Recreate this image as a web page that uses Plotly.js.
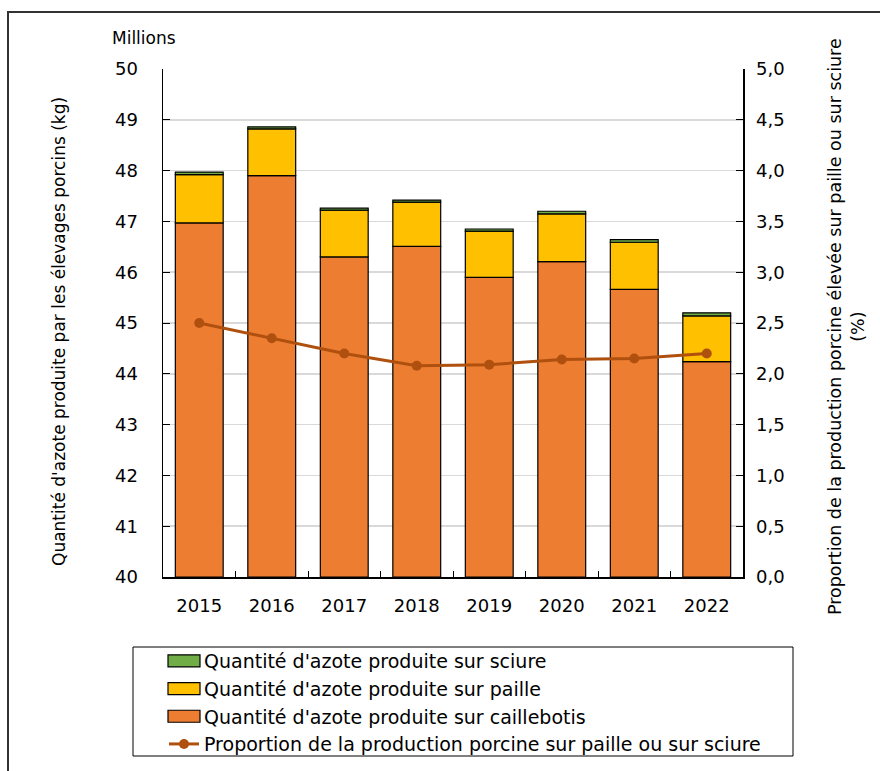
<!DOCTYPE html>
<html><head><meta charset="utf-8">
<script src="https://cdn.plot.ly/plotly-3.0.1.min.js"></script>
<style>html,body{margin:0;padding:0;background:#fff;}#chart{width:880px;height:771px;}</style>
</head><body><div id="chart"></div>
<script>
const years = ['2015','2016','2017','2018','2019','2020','2021','2022'];
const caillebotis = [46.97, 47.90, 46.30, 46.51, 45.90, 46.21, 45.66, 44.24];
const paille = [0.95, 0.92, 0.92, 0.87, 0.91, 0.94, 0.93, 0.90];
const sciure = [0.05, 0.04, 0.04, 0.04, 0.04, 0.05, 0.05, 0.06];
const proportion = [2.50, 2.35, 2.20, 2.08, 2.09, 2.14, 2.15, 2.20];
const names = {
  sciure: "Quantité d'azote produite sur sciure",
  paille: "Quantité d'azote produite sur paille",
  cail: "Quantité d'azote produite sur caillebotis",
  prop: "Proportion de la production porcine sur paille ou sur sciure"
};
const FONT = '"DejaVu Sans", sans-serif';
const traces = [
  {type:'bar', x: years, y: caillebotis.map(v => v - 40), base: 40, name: names.cail, legendrank: 3,
   marker:{color:'#ED7D31', line:{color:'#000', width:1.2}}, width:0.66},
  {type:'bar', x: years, y: paille, base: caillebotis, name: names.paille, legendrank: 2,
   marker:{color:'#FFC000', line:{color:'#000', width:1.2}}, width:0.66},
  {type:'bar', x: years, y: sciure, base: caillebotis.map((v,i) => v + paille[i]), name: names.sciure, legendrank: 1,
   marker:{color:'#70AD47', line:{color:'#000', width:1.2}}, width:0.66},
  {type:'scatter', mode:'lines+markers', x: years, y: proportion, yaxis:'y2', name: names.prop, legendrank: 4,
   line:{color:'#B0500F', width:3}, marker:{color:'#B0500F', size:10}}
];
const layout = {
  width: 880, height: 771,
  margin: {l:163, r:137, t:69, b:194, autoexpand:false},
  paper_bgcolor:'#fff', plot_bgcolor:'#fff',
  barmode:'overlay',
  showlegend: true,
  separators: ', ',
  font: {family: FONT, size: 17, color:'#000'},
  xaxis: {type:'category', showline:true, linecolor:'#000', linewidth:1.5, ticks:'inside', tickson:'boundaries', ticklen:6, tickcolor:'#000',
          showgrid:false, tickfont:{family:FONT, size:18}, ticklabelstandoff: 12, automargin:false},
  yaxis: {range:[40,50], dtick:1, showline:true, linecolor:'#000', linewidth:1.5, ticks:'inside', ticklen:7, tickcolor:'#000',
          gridcolor:'#D9D9D9', gridwidth:1.5, zeroline:false, tickfont:{family:FONT, size:18}, ticklabelstandoff: 20, automargin:false},
  yaxis2: {range:[0,5], dtick:0.5, overlaying:'y', side:'right', showline:true, linecolor:'#000', linewidth:1.5, ticks:'inside', ticklen:7,
           tickcolor:'#000', showgrid:false, zeroline:false, tickformat:'.1f', tickfont:{family:FONT, size:18}, ticklabelstandoff: 8, automargin:false},
  legend: {x: (164-163)/580, y: -(642-577)/508, xanchor:'left', yanchor:'top',
           bgcolor:'rgba(0,0,0,0)', borderwidth:0,
           font:{family:FONT, size:19, color:'#000'}, tracegroupgap:0, itemwidth:30, traceorder:'normal'},
  shapes: [
    {type:'rect', xref:'paper', yref:'paper', x0:(8-163)/580, x1:(900-163)/580, y0:-(800-577)/508, y1:1+(69-12)/508,
     line:{color:'#333', width:2}, fillcolor:'rgba(0,0,0,0)', layer:'below'},
    {type:'rect', xref:'paper', yref:'paper', x0:(133-163)/580, x1:(793-163)/580, y0:-(756-577)/508, y1:-(647-577)/508,
     line:{color:'#000', width:1}, fillcolor:'rgba(0,0,0,0)'}
  ],
  annotations: [
    {text:'Millions', xref:'paper', yref:'paper', x:(110-163)/580, y:1+(69-38)/508, xanchor:'left', yanchor:'middle', showarrow:false,
     font:{family:FONT, size:17}},
    {text:"Quantité d'azote produite par les élevages porcins (kg)", xref:'paper', yref:'paper', x:(59-163)/580, y:(577-332)/508,
     textangle:-90, showarrow:false, xanchor:'center', yanchor:'middle', font:{family:FONT, size:17}},
    {text:'Proportion de la production porcine élevée sur paille ou sur sciure<br>(%)', xref:'paper', yref:'paper', x:(846-163)/580, y:(577-327)/508,
     textangle:-90, showarrow:false, xanchor:'center', yanchor:'middle', font:{family:FONT, size:17.5}}
  ]
};
Plotly.newPlot('chart', traces, layout, {displayModeBar:false, staticPlot:true}).then(gd => {
  // widen bar legend swatches to rectangles like the original
  gd.querySelectorAll('.legend .legendpoints path').forEach(p => {
    const d = p.getAttribute('d') || '';
    if (/^M6,6H-6V-6H6Z$/.test(d)) p.setAttribute('d', 'M16,6H-16V-6H16Z');
  });
});
</script></body></html>
